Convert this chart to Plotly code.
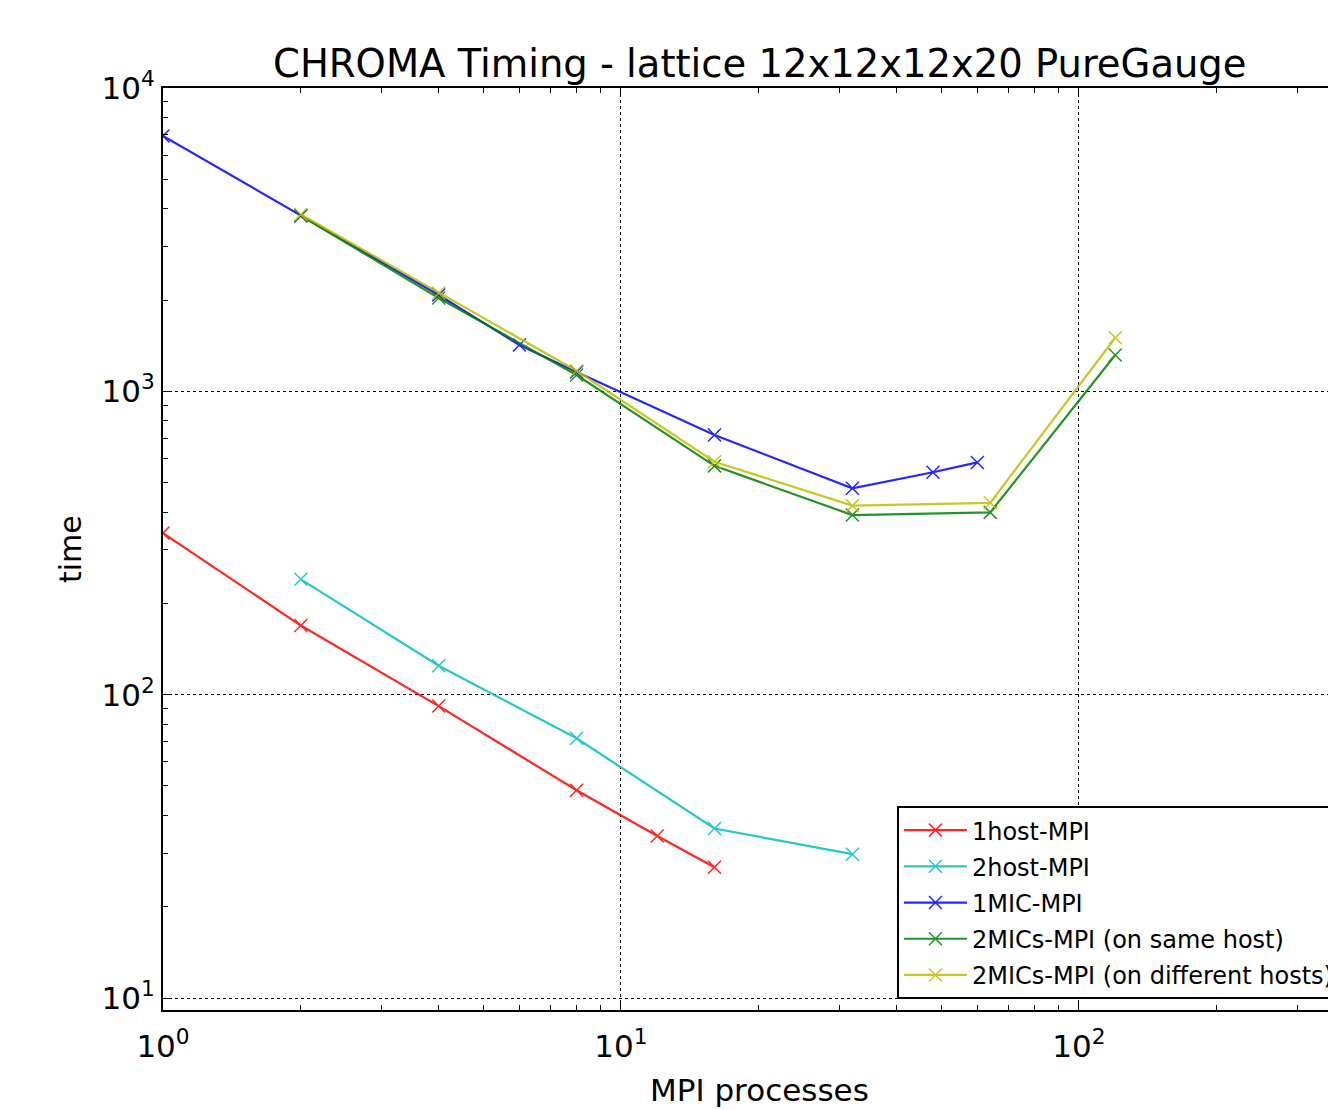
import numpy as np
import plotly.graph_objects as go

# ---- data ----
x_1host = [1, 2, 4, 8, 12, 16]
t_1host = [341, 169, 91.7, 48.4, 34.2, 27.0]

x_2host = [2, 4, 8, 16, 32]
t_2host = [240, 124.6, 71.8, 36.2, 29.8]

x_1mic = [1, 2, 4, 6, 8, 16, 32, 48, 60]
t_1mic = [6950, 3793, 2078, 1421, 1158, 718, 479, 541, 583]

x_2mic_same = [2, 4, 8, 16, 32, 64, 120]
t_2mic_same = [3793, 2031, 1132, 568, 391, 399, 1318]

x_2mic_diff = [2, 4, 8, 16, 32, 64, 120]
t_2mic_diff = [3830, 2109, 1169, 586, 420, 429, 1502]

series_names = ["1host-MPI", "2host-MPI", "1MIC-MPI",
                "2MICs-MPI (on same host)", "2MICs-MPI (on different hosts)"]
series_colors = ["#FF0000", "#00BFBF", "#0000FF", "#008000", "#BFBF00"]

x_tickvals = [1, 10, 100]
x_ticktext = ["10<sup>0</sup>", "10<sup>1</sup>", "10<sup>2</sup>"]
y_tickvals = [10, 100, 1000, 10000]
y_ticktext = ["10<sup>1</sup>", "10<sup>2</sup>", "10<sup>3</sup>", "10<sup>4</sup>"]

title_text = "CHROMA Timing - lattice 12x12x12x20 PureGauge"
xlabel = "MPI processes"
ylabel = "time"

FONT = "DejaVu Sans"

fig = go.Figure()
all_x = [x_1host, x_2host, x_1mic, x_2mic_same, x_2mic_diff]
all_t = [t_1host, t_2host, t_1mic, t_2mic_same, t_2mic_diff]
for i, (xs, ts, name, col) in enumerate(zip(all_x, all_t, series_names, series_colors)):
    fig.add_trace(go.Scatter(
        x=xs, y=ts, name=name, mode="lines+markers",
        legendgroup="g%d" % i,
        line=dict(color=col, width=2.2),
        marker=dict(symbol="x-thin", size=13, color=col,
                    line=dict(width=1.5, color=col)),
        opacity=0.85,
    ))

minor_x = [m * 10 ** d for d in range(0, 3) for m in range(2, 10)]
minor_y = [m * 10 ** d for d in range(0, 4) for m in range(2, 10)]

fig.update_layout(
    width=1328, height=1110,
    margin=dict(l=163, r=0, t=88, b=100, autoexpand=False),
    paper_bgcolor="white", plot_bgcolor="white",
    font=dict(family=FONT, color="black"),
    showlegend=True,
    legend=dict(
        x=0.630, y=0.0119, xanchor="left", yanchor="bottom",
        bgcolor="white", bordercolor="black", borderwidth=2,
        font=dict(family=FONT, size=24, color="black"),
        itemwidth=63, tracegroupgap=2,
    ),
)

fig.update_xaxes(
    type="log", range=[0, 2.5437],
    showline=True, linecolor="black", linewidth=2, mirror="ticks",
    ticks="inside", ticklen=9, tickwidth=1, tickcolor="black",
    tickvals=x_tickvals, ticktext=x_ticktext, ticklabelstandoff=8,
    tickfont=dict(family=FONT, size=31, color="black"),
    showgrid=True, gridcolor="black", griddash="dot", gridwidth=1,
    minor=dict(tickvals=minor_x, ticks="inside", ticklen=5, tickcolor="black",
               showgrid=False),
    zeroline=False,
)
fig.update_yaxes(
    type="log", range=[np.log10(9.13), 4],
    showline=True, linecolor="black", linewidth=2, mirror=False,
    ticks="inside", ticklen=9, tickwidth=1, tickcolor="black",
    tickvals=y_tickvals, ticktext=y_ticktext,
    tickfont=dict(family=FONT, size=31, color="black"),
    showgrid=True, gridcolor="black", griddash="dot", gridwidth=1,
    minor=dict(tickvals=minor_y, ticks="inside", ticklen=5, tickcolor="black",
               showgrid=False),
    zeroline=False,
)

fig.add_annotation(text=title_text, xref="paper", yref="paper",
                   x=0.5124, y=1.0271, xanchor="center", yanchor="middle",
                   showarrow=False, font=dict(family=FONT, size=38.5, color="black"))
fig.add_annotation(text=xlabel, xref="paper", yref="paper",
                   x=0.5124, y=-0.0868, xanchor="center", yanchor="middle",
                   showarrow=False, font=dict(family=FONT, size=31, color="black"))
fig.add_annotation(text=ylabel, xref="paper", yref="paper",
                   x=-0.0798, y=0.5, xanchor="center", yanchor="middle",
                   textangle=-90,
                   showarrow=False, font=dict(family=FONT, size=30, color="black"))

fig.write_html("out.html")
